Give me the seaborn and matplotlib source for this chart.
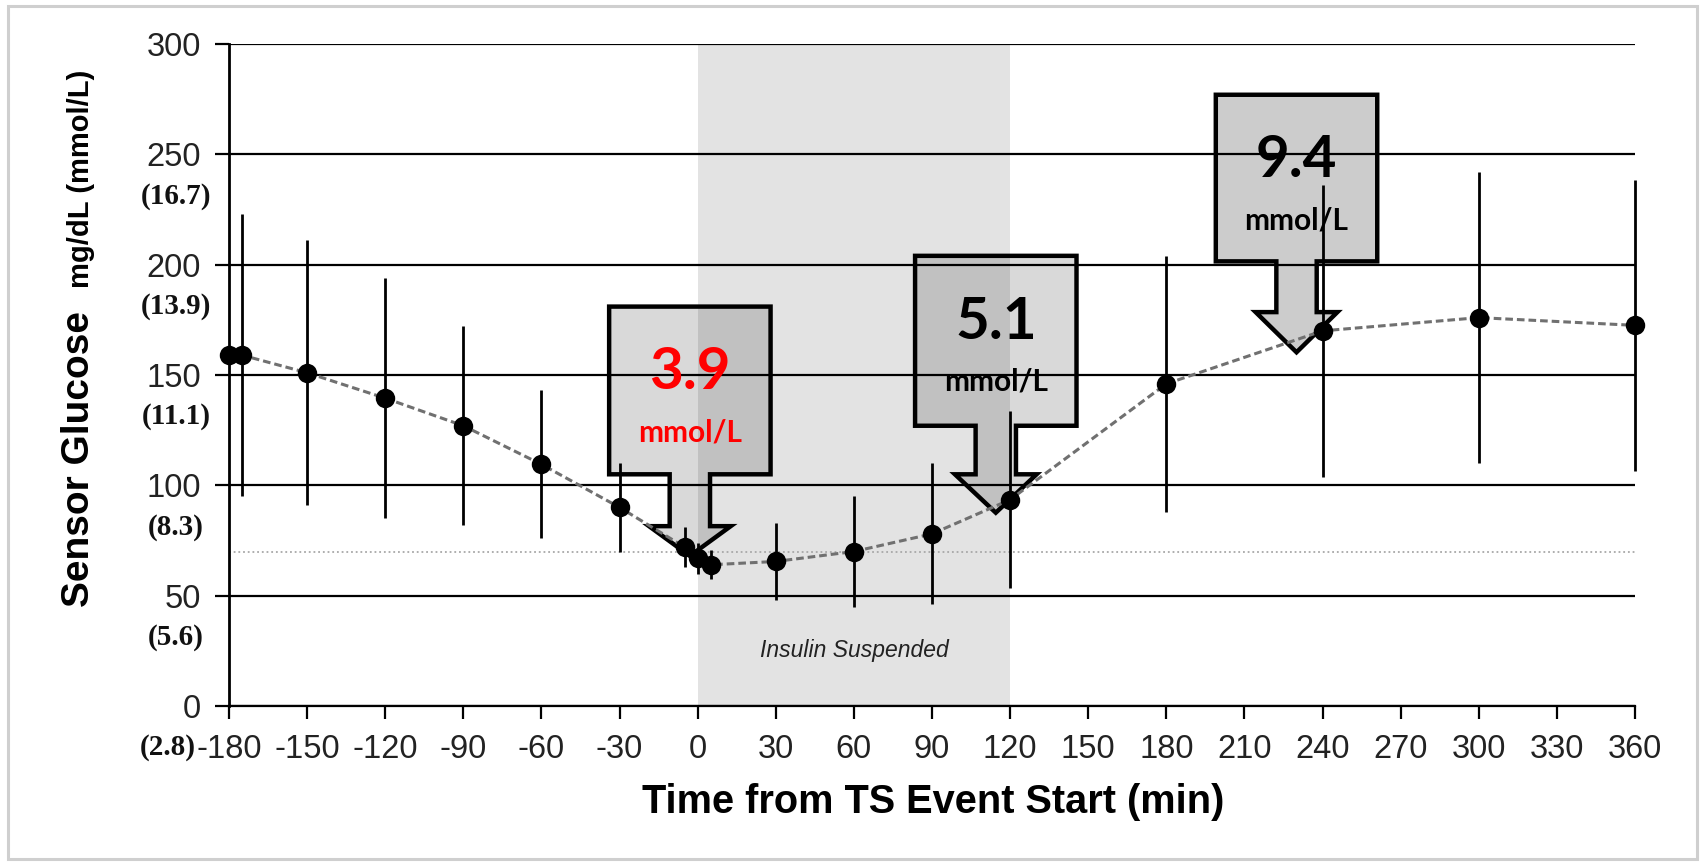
import numpy as np
import matplotlib
matplotlib.use("Agg")
import matplotlib.pyplot as plt
import seaborn as sns
from matplotlib.patches import Polygon, Rectangle

# ---------------- data ----------------
times = [-180, -175, -150, -120, -90, -60, -30, -5, 0, 5, 30, 60, 90, 120, 180, 240, 300, 360]
mean_glucose = [159, 159, 151, 139.5, 127, 109.5, 90, 72, 67, 64, 65.5, 70, 78, 93.5, 146, 170, 176, 172.5]
glucose_sd = [np.nan, 64, 60, 54.5, 45, 33.5, 20, 9, 7, 6.5, 17.5, 25, 32, 40, 58, 66, 66, 66]

y_ticks = [0, 50, 100, 150, 200, 250, 300]
x_ticks = [-180, -150, -120, -90, -60, -30, 0, 30, 60, 90, 120, 150, 180, 210, 240, 270, 300, 330, 360]
mmol_tick_values = [250, 200, 150, 100, 50, 0]
mmol_labels = ["(16.7)", "(13.9)", "(11.1)", "(8.3)", "(5.6)", "(2.8)"]

threshold = 70
suspend_start, suspend_end = 0, 120
suspend_label = "Insulin Suspended"

callout_values = ["3.9", "5.1", "9.4"]
callout_units = ["mmol/L", "mmol/L", "mmol/L"]
callout_colors = ["#ff0000", "black", "black"]
callout_x = [-3, 114.5, 230]
callout_box_top = [181, 204, 277]
callout_box_bottom = [105, 127, 201.5]
callout_shaft_bottom = [81.5, 105, 178.5]
callout_tip = [68, 87.6, 160.3]
callout_alpha = [0.15, 0.15, 0.2]

x_label = "Time from TS Event Start (min)"
y_label_main = "Sensor Glucose"
y_label_unit = "mg/dL (mmol/L)"

# ---------------- style ----------------
sns.set_style("white")
plt.rcParams["font.family"] = ["Liberation Sans", "DejaVu Sans"]
plt.rcParams["axes.unicode_minus"] = False

W, H = 1704, 864
fig = plt.figure(figsize=(W / 100, H / 100), dpi=100)
L, R, T, B = 229, 1635, 44, 706
ax = fig.add_axes([L / W, 1 - B / H, (R - L) / W, (B - T) / H])

# figure frame
fig.patches.append(Rectangle((8 / W, 5 / H), (1697 - 8) / W, (858 - 5) / H,
                             transform=fig.transFigure, fill=False,
                             edgecolor="#cfcfcf", lw=2.2, zorder=0))

ax.set_xlim(-180, 360)
ax.set_ylim(0, 300)

# shaded suspension window
ax.axvspan(suspend_start, suspend_end, color="#e3e3e3", zorder=0.3, lw=0)
ax.text((suspend_start + suspend_end) / 2, 25, suspend_label, ha="center", va="center",
        fontsize=16.5, style="italic", color="#222222", zorder=2)

# grid
ax.set_yticks(y_ticks)
ax.set_xticks(x_ticks)
ax.set_xticklabels([str(v) for v in x_ticks])
ax.set_yticklabels([str(v) for v in y_ticks])
ax.yaxis.grid(True, color="black", lw=1.6, zorder=1)
ax.xaxis.grid(False)
ax.set_axisbelow(True)

# threshold dotted line
ax.axhline(threshold, color="#a8a8a8", lw=1.3, ls=(0, (1, 1.6)), zorder=1.2)

# callouts
bw, sw, hw = 62, 15.5, 31.4
for cx, top, bot, sb, tip, val, unit, col, al in zip(
        callout_x, callout_box_top, callout_box_bottom, callout_shaft_bottom,
        callout_tip, callout_values, callout_units, callout_colors, callout_alpha):
    verts = [(cx - bw / 2, top), (cx + bw / 2, top), (cx + bw / 2, bot),
             (cx + sw / 2, bot), (cx + sw / 2, sb), (cx + hw / 2, sb), (cx, tip),
             (cx - hw / 2, sb), (cx - sw / 2, sb), (cx - sw / 2, bot),
             (cx - bw / 2, bot)]
    ax.add_patch(Polygon(verts, closed=True, facecolor=(0, 0, 0, al),
                         edgecolor="black", lw=3.2, joinstyle="miter", zorder=0.8))
    ax.text(cx, top - 30, val, ha="center", va="center", fontsize=42,
            fontweight="bold", color=col, family=["Lato", "DejaVu Sans"], zorder=6)
    ax.text(cx, top - 57, unit, ha="center", va="center", fontsize=21.5,
            fontweight="bold", color=col, family=["Lato", "DejaVu Sans"], zorder=6)

# error bars
t_arr = np.array(times, dtype=float)
m_arr = np.array(mean_glucose, dtype=float)
s_arr = np.array(glucose_sd, dtype=float)
ok = ~np.isnan(s_arr)
ax.vlines(t_arr[ok], (m_arr - s_arr)[ok], (m_arr + s_arr)[ok], colors="black",
          lw=2.0, zorder=3)

# mean line and points
sns.lineplot(x=times, y=mean_glucose, ax=ax, color="#707070", lw=2.2,
             linestyle=(0, (2.5, 1.3)), zorder=4, sort=False)
sns.scatterplot(x=times, y=mean_glucose, ax=ax, s=14 ** 2, color="black",
                edgecolor="black", linewidth=0, zorder=5)
for c in ax.collections:
    c.set_clip_on(False)
for ln in ax.lines:
    ln.set_clip_on(False)

# spines & ticks
for s in ["top", "right"]:
    ax.spines[s].set_visible(False)
ax.spines["left"].set_color("black")
ax.spines["left"].set_linewidth(2)
ax.spines["bottom"].set_color("black")
ax.spines["bottom"].set_linewidth(1.6)
ax.tick_params(axis="y", direction="out", length=10, width=1.6, color="black",
               labelsize=23.5, labelcolor="#222222", pad=10, left=True)
ax.tick_params(axis="x", direction="out", length=9, width=1.6, color="black",
               labelsize=23.5, labelcolor="#222222", pad=11, bottom=True)

# mmol/L secondary labels
blend = matplotlib.transforms.blended_transform_factory(fig.transFigure, ax.transData)
for v, lab in zip(mmol_tick_values, mmol_labels):
    xc = 176 if v > 0 else 168
    ax.text(xc / W, v - 19, lab, transform=blend, ha="center", va="center", fontsize=21,
            fontweight="bold", family=["Liberation Serif", "DejaVu Serif"], color="#111111",
            clip_on=False, zorder=7)

# axis labels
fig.text(933 / W, 1 - 802 / H, x_label, ha="center", va="center",
         fontsize=28.6, fontweight="bold", color="black")
fig.text(89 / W, 1 - 459 / H, y_label_main, rotation=90, rotation_mode="anchor",
         ha="center", va="baseline", fontsize=28, fontweight="bold", color="black")
fig.text(89 / W, 1 - 288 / H, y_label_unit, rotation=90, rotation_mode="anchor",
         ha="left", va="baseline", fontsize=21, fontweight="bold", color="black")

fig.savefig("out.png", dpi=100)
